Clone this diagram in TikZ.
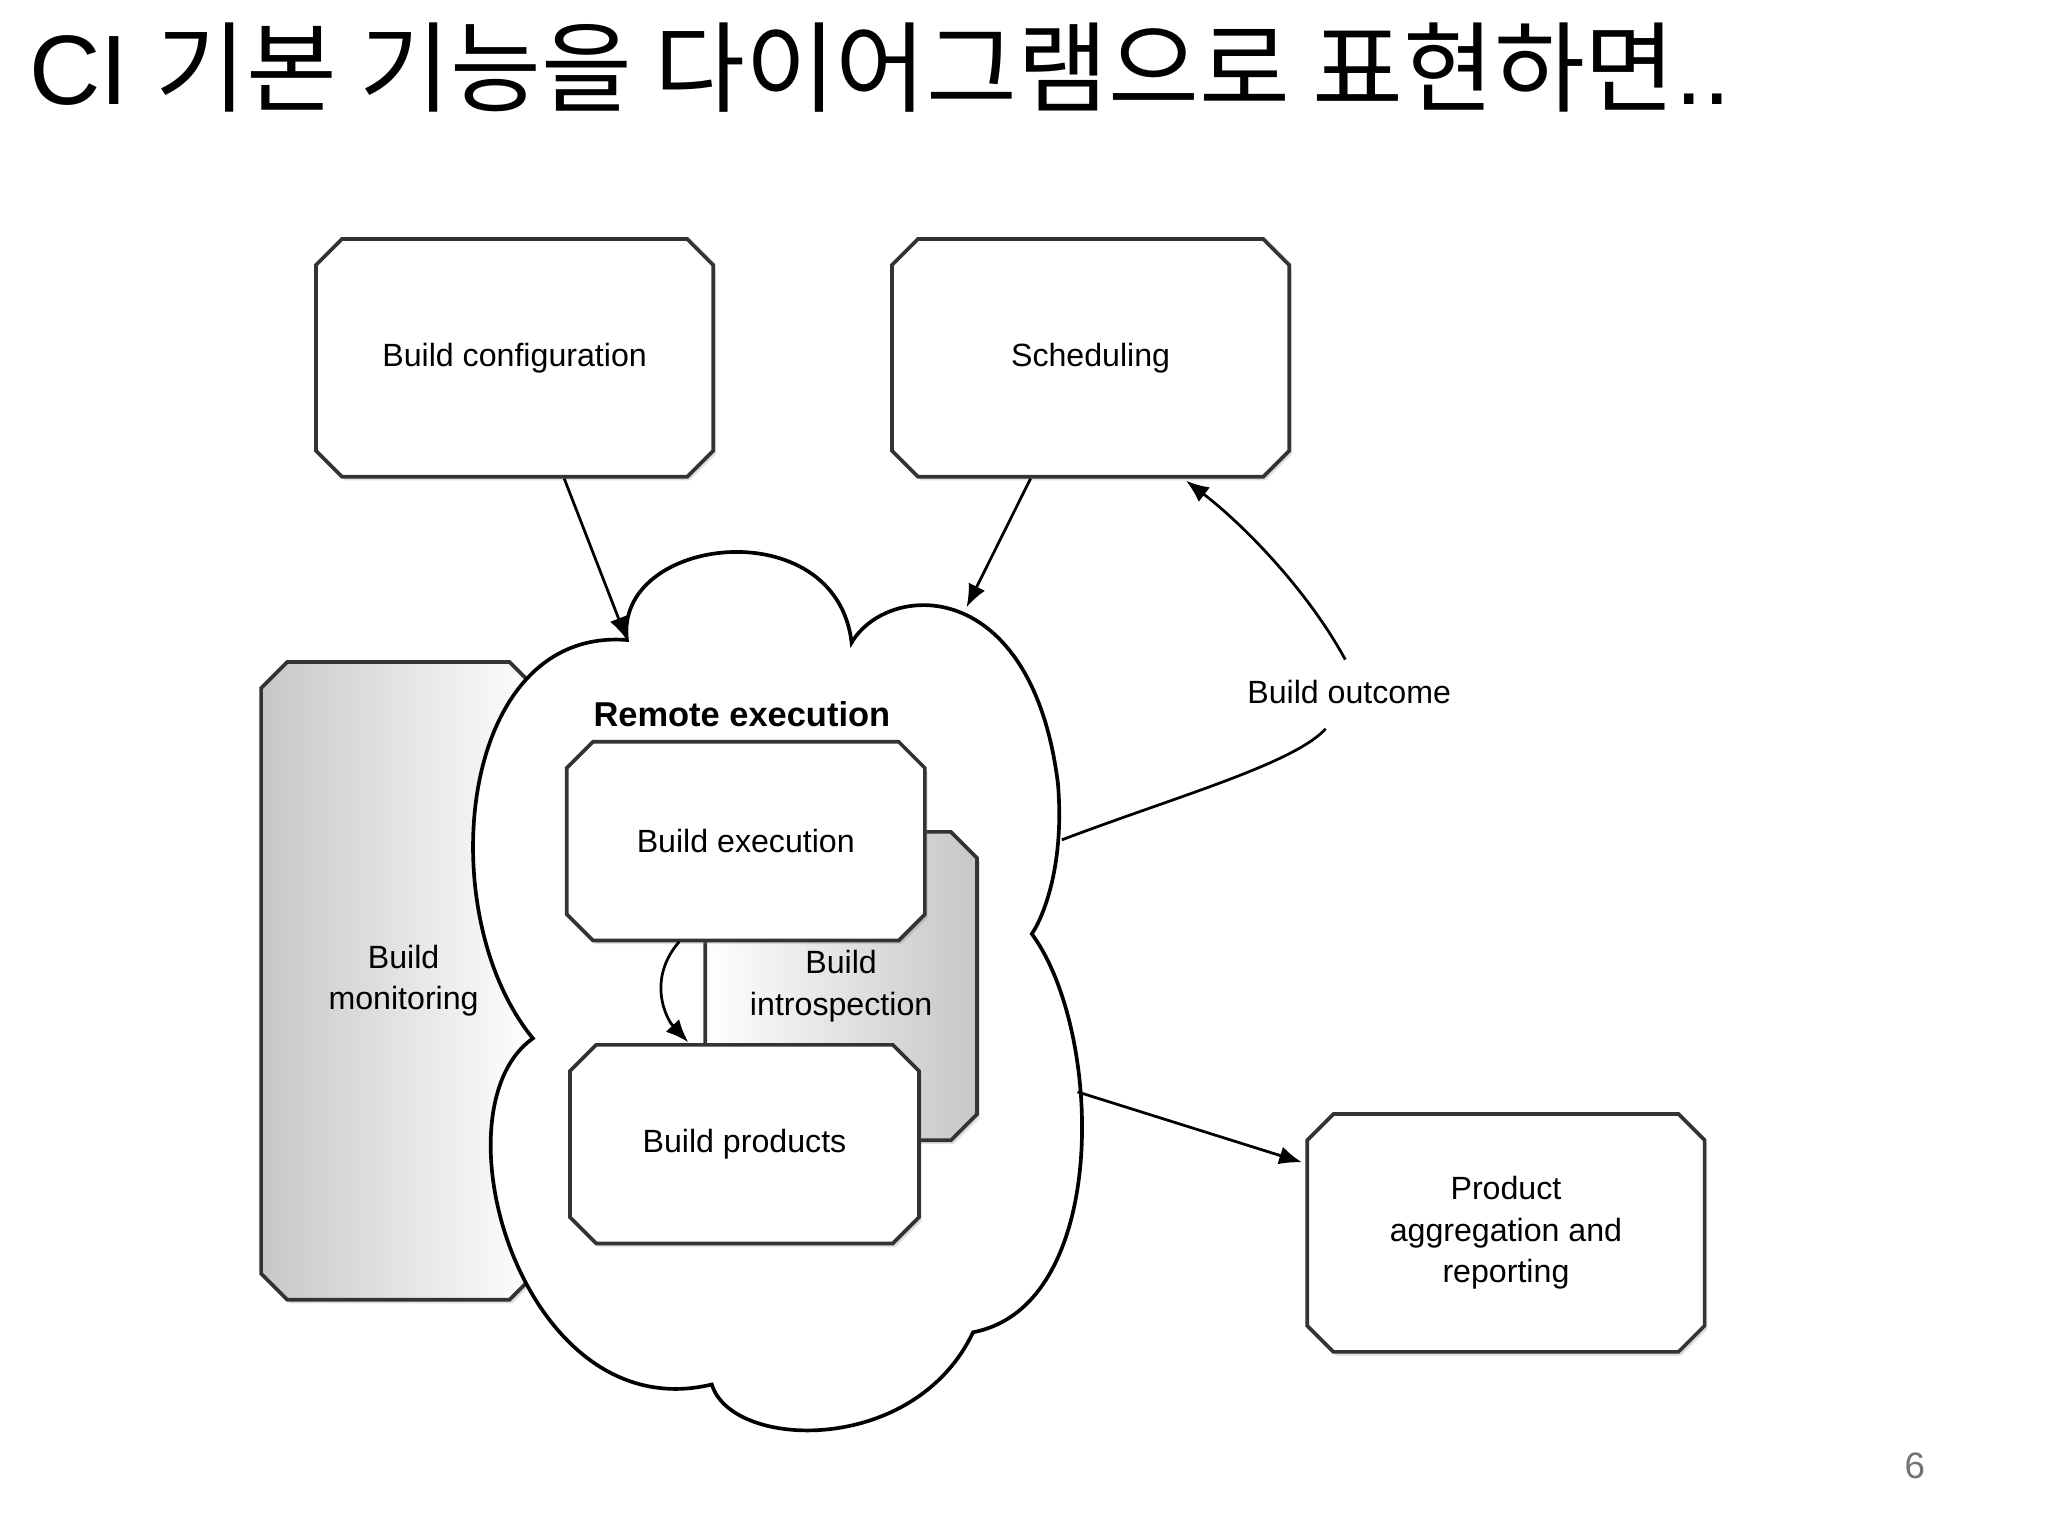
\documentclass[tikz,border=0pt]{standalone}
\usepackage{fontspec}
\setmainfont{Liberation Sans}
\newfontfamily\kr{Noto Sans CJK KR}
\usetikzlibrary{shapes.misc,shadows,arrows.meta}
\begin{document}
\begin{tikzpicture}[x=0.01cm,y=-0.01cm,
  box/.style={chamfered rectangle,chamfered rectangle xsep=0.1cm,chamfered rectangle ysep=0.1cm,draw=black!80,line width=0.8pt,fill=white,align=center,font=\fontsize{7}{9}\selectfont,drop shadow={opacity=0.25,shadow xshift=0.6pt,shadow yshift=-0.8pt}},
  arr/.style={-{Latex[length=5pt,width=4pt]},line width=0.6pt},
  lbl/.style={font=\fontsize{7}{9}\selectfont,align=center}]
\useasboundingbox (0,0) rectangle (1568,1176);
\fill[white] (0,0) rectangle (1568,1176);
\node[anchor=base west,font=\fontsize{21.5}{24}\selectfont,inner sep=0] (title) at (22,80) {CI {\kr 기본 기능을 다이어그램으로 표현하면}..};
\node[font=\fontsize{8}{10}\selectfont,text=black!55] (pg) at (1466,1122) {6};
% monitoring
\node[box,minimum width=2.1cm,minimum height=4.88cm,left color=black!22,right color=white,drop shadow={opacity=0}] (mon) at (305,751) {};
\node[lbl] (monl) at (309,751) {Build\\monitoring};
% cloud
\coordinate (cA) at (480,490);
\coordinate (cB) at (652,492);
\coordinate (cC) at (790,715);
\coordinate (cD) at (745,1020);
\coordinate (cE) at (545,1060);
\coordinate (cF) at (408,795);
\draw[line width=0.8pt,fill=white] (cA) .. controls (470,410) and (640,390) .. (cB)
 .. controls (680,445) and (790,440) .. (810,600)
 .. controls (815,660) and (800,700) .. (cC)
 .. controls (845,790) and (850,1000) .. (cD)
 .. controls (700,1115) and (560,1110) .. (cE)
 .. controls (400,1095) and (330,850) .. (cF)
 .. controls (330,700) and (350,480) .. (cA) -- cycle;
\node[font=\bfseries\fontsize{7.5}{9}\selectfont] (rem) at (568,547) {Remote execution};
\node[box,minimum width=2.08cm,minimum height=2.36cm,left color=white,right color=black!22,drop shadow={opacity=0}] (intro) at (644,755) {};
\node[lbl] (introl) at (644,755) {Build\\introspection};
\node[box,minimum width=2.74cm,minimum height=1.52cm] (exe) at (571,644) {Build execution};
\node[box,minimum width=2.67cm,minimum height=1.52cm] (prod) at (570,876) {Build products};
\coordinate (pin) at (527,798);
\draw[arr] (520,721) .. controls (495,750) and (510,780) .. (pin);
% top boxes
\node[box,minimum width=3.04cm,minimum height=1.82cm] (conf) at (394,274) {Build configuration};
\node[box,minimum width=3.04cm,minimum height=1.82cm] (sched) at (835,274) {Scheduling};
\node[box,minimum width=3.04cm,minimum height=1.82cm] (agg) at (1153,944) {Product\\aggregation and\\reporting};
\draw[arr] (conf.south) ++(38,0) -- (cA);
\draw[arr] (sched.south) ++(-46,0) -- (740,465);
\node[lbl] (out) at (1033,530) {Build outcome};
\coordinate (o1) at (1015,558);
\coordinate (o2) at (1030,505);
\coordinate (si) at (908,368);
\draw[line width=0.6pt] (813,643) .. controls (900,610) and (990,585) .. (o1);
\draw[arr] (o2) .. controls (1000,450) and (950,400) .. (si);
\coordinate (ai) at (997,890);
\draw[arr] (825,836) -- (ai);
\end{tikzpicture}
\end{document}
